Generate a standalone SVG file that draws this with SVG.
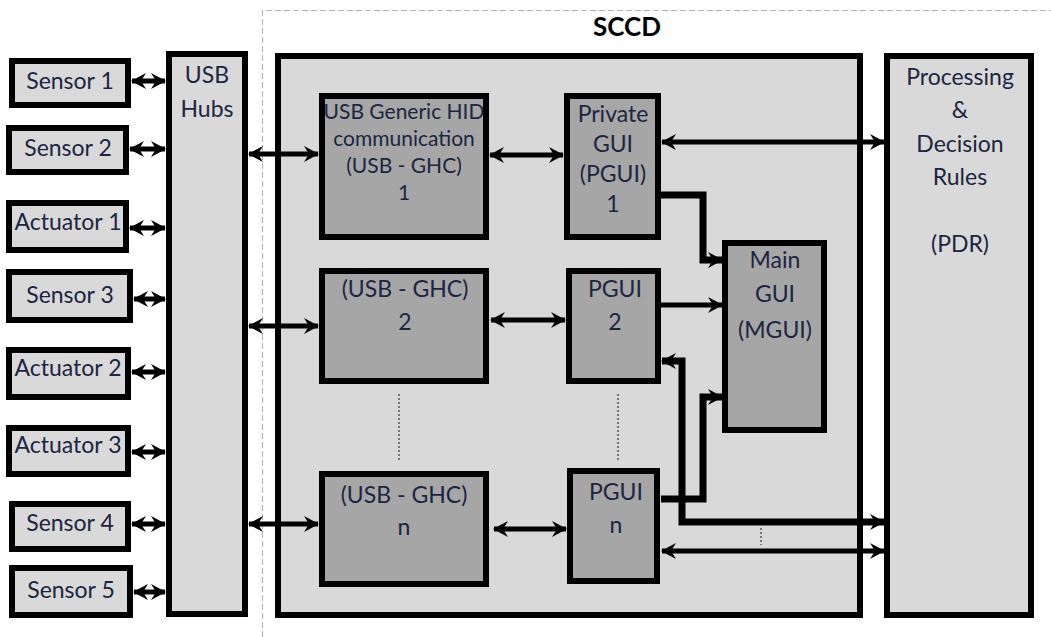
<svg xmlns="http://www.w3.org/2000/svg" width="1051" height="637" viewBox="0 0 1051 637">
<style>
.lt{fill:#d9d9d9;stroke:#000;stroke-width:6}
.dk{fill:#a6a6a6;stroke:#000;stroke-width:6}
.t{font-family:Lato,"Liberation Sans",sans-serif;fill:#1c2541;text-anchor:middle}
.s{font-size:23px}
.m{font-size:21px}
.c{stroke:#000;stroke-width:5;fill:none}
.cw{stroke:#000;stroke-width:7;fill:none}
.dot{stroke:#555;stroke-width:1.5;stroke-dasharray:2 2;fill:none}
</style>
<defs>
<marker id="ah" markerUnits="userSpaceOnUse" markerWidth="16" markerHeight="18" refX="14" refY="9" orient="auto-start-reverse" viewBox="0 0 16 18">
<path d="M0,1 L15,9 L0,17 L5,9 z" fill="#000"/>
</marker>
</defs>
<path d="M262.5,637 V10.5 H1051" fill="none" stroke="#b4b4b4" stroke-width="1.2" stroke-dasharray="6 3"/>
<text x="627" y="36" style="font-family:Lato,'Liberation Sans',sans-serif;font-weight:bold;font-size:26px;fill:#000;text-anchor:middle">SCCD</text>

<g id="sccd"><rect class="lt" x="278" y="56" width="582" height="559"/></g>
<g id="pdr"><rect class="lt" x="887" y="56" width="144" height="559"/>
<text class="t s" x="960" y="85">Processing</text><text class="t s" x="960" y="118">&amp;</text><text class="t s" x="960" y="152">Decision</text><text class="t s" x="960" y="185">Rules</text><text class="t s" x="960" y="252">(PDR)</text></g>
<g id="hubs"><rect class="lt" x="169" y="54" width="76" height="560"/>
<text class="t s" x="207" y="83">USB</text><text class="t s" x="207" y="117">Hubs</text></g>

<g id="sensor1"><rect class="lt" x="12" y="61" width="116" height="44"/><text class="t s" x="70" y="89">Sensor 1</text></g>
<g id="sensor2"><rect class="lt" x="9" y="128" width="117" height="44"/><text class="t s" x="68" y="156">Sensor 2</text></g>
<g id="actuator1"><rect class="lt" x="9" y="203" width="117" height="47"/><text class="t s" x="68" y="230">Actuator 1</text></g>
<g id="sensor3"><rect class="lt" x="9" y="272" width="121" height="48"/><text class="t s" x="70" y="303">Sensor 3</text></g>
<g id="actuator2"><rect class="lt" x="9" y="350" width="119" height="47"/><text class="t s" x="68" y="376">Actuator 2</text></g>
<g id="actuator3"><rect class="lt" x="9" y="428" width="119" height="46"/><text class="t s" x="68" y="453">Actuator 3</text></g>
<g id="sensor4"><rect class="lt" x="12" y="504" width="116" height="45"/><text class="t s" x="70" y="531">Sensor 4</text></g>
<g id="sensor5"><rect class="lt" x="12" y="568" width="118" height="47"/><text class="t s" x="71" y="598">Sensor 5</text></g>

<g id="ghc1"><rect class="dk" x="322" y="96" width="164" height="141"/>
<text class="t m" x="404" y="119">USB Generic HID</text><text class="t m" x="404" y="146">communication</text><text class="t m" x="404" y="173">(USB - GHC)</text><text class="t m" x="404" y="200">1</text></g>
<g id="pgui1"><rect class="dk" x="567" y="96" width="91" height="141"/>
<text class="t s" x="613" y="122">Private</text><text class="t s" x="613" y="152">GUI</text><text class="t s" x="613" y="182">(PGUI)</text><text class="t s" x="613" y="212">1</text></g>
<g id="ghc2"><rect class="dk" x="322" y="271" width="164" height="110"/>
<text class="t s" x="405" y="297">(USB - GHC)</text><text class="t s" x="405" y="330">2</text></g>
<g id="pgui2"><rect class="dk" x="569" y="271" width="89" height="110"/>
<text class="t s" x="615" y="297">PGUI</text><text class="t s" x="615" y="330">2</text></g>
<g id="ghcn"><rect class="dk" x="322" y="474" width="164" height="110"/>
<text class="t s" x="404" y="503">(USB - GHC)</text><text class="t s" x="404" y="535">n</text></g>
<g id="pguin"><rect class="dk" x="570" y="471" width="87" height="110"/>
<text class="t s" x="616" y="500">PGUI</text><text class="t s" x="616" y="533">n</text></g>
<g id="mgui"><rect class="dk" x="725" y="243" width="99" height="187"/>
<text class="t s" x="775" y="268">Main</text><text class="t s" x="775" y="302">GUI</text><text class="t s" x="775" y="338">(MGUI)</text></g>

<g id="connectors">
<path class="c" marker-start="url(#ah)" marker-end="url(#ah)" d="M132,81 H165"/>
<path class="c" marker-start="url(#ah)" marker-end="url(#ah)" d="M130,149 H165"/>
<path class="c" marker-start="url(#ah)" marker-end="url(#ah)" d="M130,228 H165"/>
<path class="c" marker-start="url(#ah)" marker-end="url(#ah)" d="M134,299 H165"/>
<path class="c" marker-start="url(#ah)" marker-end="url(#ah)" d="M132,372 H165"/>
<path class="c" marker-start="url(#ah)" marker-end="url(#ah)" d="M132,452 H165"/>
<path class="c" marker-start="url(#ah)" marker-end="url(#ah)" d="M132,524 H165"/>
<path class="c" marker-start="url(#ah)" marker-end="url(#ah)" d="M134,592 H165"/>
<path class="c" marker-start="url(#ah)" marker-end="url(#ah)" d="M249,154 H318"/>
<path class="c" marker-start="url(#ah)" marker-end="url(#ah)" d="M249,326 H318"/>
<path class="c" marker-start="url(#ah)" marker-end="url(#ah)" d="M249,524 H318"/>
<path class="c" marker-start="url(#ah)" marker-end="url(#ah)" d="M490,155 H563"/>
<path class="c" marker-start="url(#ah)" marker-end="url(#ah)" d="M491,320 H565"/>
<path class="c" marker-start="url(#ah)" marker-end="url(#ah)" d="M494,529 H566"/>
<path class="c" marker-start="url(#ah)" marker-end="url(#ah)" d="M662,142 H884"/>
<path class="c" marker-end="url(#ah)" d="M661,305 H722"/>
<path class="c" marker-start="url(#ah)" marker-end="url(#ah)" d="M662,551 H884"/>
<path class="cw" marker-start="url(#ah)" marker-end="url(#ah)" d="M662,361 H682 V522 H884"/>
<path class="cw" marker-end="url(#ah)" d="M661,195 H703 V260 H722"/>
<path class="cw" marker-end="url(#ah)" d="M661,499 H703 V397 H722"/>
<path class="dot" d="M399,394 V462"/>
<path class="dot" d="M618,394 V462"/>
<path class="dot" d="M761,528 V545"/>
</g>
</svg>
